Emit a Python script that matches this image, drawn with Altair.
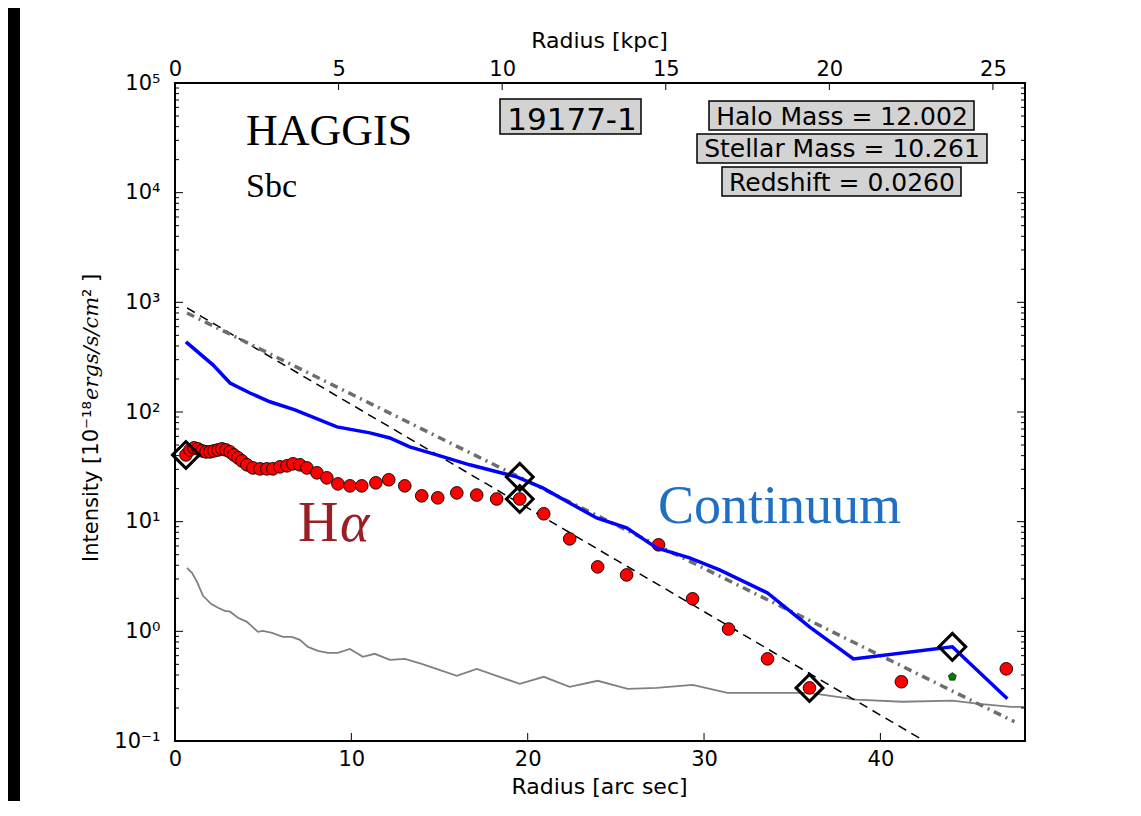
import altair as alt
import pandas as pd

# ---------------- data ----------------
ha_r = [0.62, 0.85, 1.08, 1.30, 1.53, 1.76, 1.98, 2.21, 2.44, 2.66, 2.89, 3.12, 3.34, 3.57, 3.80,
        4.08, 4.42, 4.82, 5.21, 5.55, 5.95, 6.35, 6.69, 7.08, 7.48, 8.05, 8.61, 9.24, 9.92, 10.59,
        11.39, 12.12, 13.03, 13.99, 14.90, 15.98, 17.11, 18.24, 19.55, 20.91, 22.38, 23.97, 25.61,
        27.42, 29.35, 31.39, 33.60, 35.98, 41.19, 47.14]
ha_i = [40.6, 45.1, 47.1, 46.1, 44.2, 43.3, 43.3, 44.2, 45.1, 46.1, 45.1, 43.3, 40.6, 38.2, 35.8,
        33.0, 30.9, 30.3, 30.3, 30.3, 31.6, 32.3, 33.7, 33.0, 30.9, 27.9, 25.1, 22.1, 21.2, 21.2,
        22.6, 24.1, 21.2, 17.2, 16.5, 18.3, 17.5, 16.1, 16.1, 11.8, 6.97, 3.87, 3.27,
        6.15, 1.98, 1.05, 0.561, 0.305, 0.347, 0.455]

cont_r = [0.62, 2.15, 3.12, 4.25, 5.38, 6.80, 9.18, 11.05, 12.18, 13.31, 14.84, 16.71, 19.38,
          20.85, 22.38, 23.91, 25.61, 27.31, 29.18, 30.88, 33.60, 35.98, 38.47, 44.08, 47.20]
cont_i = [436, 269, 184, 149, 124, 104.5, 73.1, 64.5, 58.0, 48.1, 40.6, 33.0, 25.6,
          20.3, 14.8, 10.8, 8.78, 5.77, 4.68, 3.64, 2.24, 1.10, 0.561, 0.722, 0.243]

noise_r = [0.68, 0.96, 1.25, 1.59, 2.04, 2.44, 2.83, 3.12, 3.57, 4.08, 4.70, 4.99, 5.50, 6.12, 6.63,
           7.08, 7.54, 8.10, 8.67, 9.24, 9.92, 10.65, 11.33, 12.18, 13.03, 13.99, 15.98, 17.11,
           19.55, 20.91, 22.38, 23.97, 25.67, 27.31, 29.35, 31.33, 33.60, 35.98, 38.64, 41.25,
           44.08, 45.61, 47.42, 48.16]
noise_i = [3.79, 3.41, 2.83, 2.11, 1.78, 1.64, 1.54, 1.51, 1.33, 1.22, 0.989, 1.01, 0.969, 0.891, 0.891,
           0.836, 0.722, 0.664, 0.637, 0.637, 0.692, 0.586, 0.624, 0.550, 0.561, 0.506, 0.393, 0.455,
           0.332, 0.385, 0.312, 0.354, 0.299, 0.305, 0.325, 0.275, 0.275, 0.275, 0.238, 0.228,
           0.233, 0.218, 0.205, 0.205]

diam_r = [0.62, 19.55, 19.55, 35.98, 44.08]
diam_i = [40.6, 25.6, 16.1, 0.305, 0.722]

pent_r = [44.08]
pent_i = [0.385]

fit1_r = [0.68, 42.5]       # black dashed fit
fit1_i = [889, 0.1]
fit2_r = [0.68, 47.6]       # grey dash-dot fit
fit2_i = [800, 0.15]

y_major = [0.1, 1, 10, 100, 1000, 10000, 100000]
y_minor = [k * 10.0 ** n for n in range(-1, 5) for k in range(2, 10)]
x_ticks = [0, 10, 20, 30, 40]
kpc_ticks = [0, 5, 10, 15, 20, 25]

# ---------------- chart ----------------
W, H = 850, 658
xs = alt.Scale(domain=[0, 48.2], nice=False, zero=False)
ys = alt.Scale(type="log", domain=[0.1, 100000], nice=False)
ks = alt.Scale(domain=[0, 25.98], nice=False, zero=False)

FONT = "DejaVu Sans"
SERIF = "Liberation Serif"

def df(r, i):
    return pd.DataFrame({"r": r, "i": i})

one = pd.DataFrame({"k": [0]})

ylabels = "['10⁻¹','10⁰','10¹','10²','10³','10⁴','10⁵'][round(log(datum.value)/LN10)+1]"

Y_AXIS = alt.Axis(
    values=y_major, ticks=False, tickSize=0, domain=False, grid=False,
    labelExpr=ylabels, labelFont=FONT, labelFontSize=21, labelColor="black", labelPadding=15,
    title=None)

X_AXIS = alt.Axis(
    values=x_ticks, ticks=False, tickSize=0, domain=False, grid=False, labelFlush=False,
    labelFont=FONT, labelFontSize=21, labelColor="black", labelPadding=7,
    title="Radius [arc sec]", titleFont=FONT, titleFontSize=22, titleFontWeight="normal",
    titleColor="black", titleX=424, titleY=52, titleBaseline="alphabetic", titleAlign="center")

X_noax = alt.X("r:Q", scale=xs, axis=None)
Y_ax = alt.Y("i:Q", scale=ys, axis=Y_AXIS)

noise = alt.Chart(df(noise_r, noise_i)).mark_line(color="#808080", strokeWidth=1.8, clip=True).encode(
    x=alt.X("r:Q", scale=xs, axis=X_AXIS), y=Y_ax, order="r:Q")

fit1 = alt.Chart(df(fit1_r, fit1_i)).mark_line(color="black", strokeWidth=1.5, strokeDash=[9, 6], clip=True).encode(
    x=X_noax, y=Y_ax)
fit2 = alt.Chart(df(fit2_r, fit2_i)).mark_line(color="#6e6e6e", strokeWidth=3.5, strokeDash=[8, 5, 2, 5], clip=True).encode(
    x=X_noax, y=Y_ax)

ha = alt.Chart(df(ha_r, ha_i)).mark_point(shape="circle", filled=True, color="#ff0000", stroke="black",
                                           strokeWidth=0.9, size=160, opacity=1).encode(x=X_noax, y=Y_ax)

cont = alt.Chart(df(cont_r, cont_i)).mark_line(color="#0000ff", strokeWidth=3.5, clip=True).encode(
    x=X_noax, y=Y_ax, order="r:Q")

diam = alt.Chart(df(diam_r, diam_i)).mark_point(shape="diamond", filled=False, stroke="black", color="black",
                                                 strokeWidth=3, size=720, opacity=1).encode(x=X_noax, y=Y_ax)

pent = alt.Chart(df(pent_r, pent_i)).mark_point(
    shape="M0,-1L0.951,-0.309L0.588,0.809L-0.588,0.809L-0.951,-0.309Z",
    filled=True, color="#008000", stroke="black", strokeWidth=0.6, size=70, opacity=1).encode(x=X_noax, y=Y_ax)

# inward ticks
ymaj = pd.DataFrame({"i": y_major})
ymin = pd.DataFrame({"i": y_minor})
xt = pd.DataFrame({"r": x_ticks})
kt = pd.DataFrame({"r": kpc_ticks})

def yt(data, x0, x1):
    return alt.Chart(data).mark_rule(color="black", strokeWidth=1).encode(
        y=Y_ax, x=alt.value(x0), x2=alt.value(x1))

ticks = [yt(ymaj, 0, 8), yt(ymaj, W, W - 8), yt(ymin, 0, 4), yt(ymin, W, W - 4),
         alt.Chart(xt).mark_rule(color="black", strokeWidth=1).encode(
             x=X_noax, y=alt.value(H), y2=alt.value(H - 8))]

kpc = alt.Chart(kt).mark_rule(color="black", strokeWidth=1).encode(
    x=alt.X("r:Q", scale=ks, axis=alt.Axis(
        orient="top", values=kpc_ticks, ticks=False, tickSize=0, domain=False, grid=False,
        labelFlush=False, labelFont=FONT, labelFontSize=21, labelColor="black", labelPadding=4,
        title="Radius [kpc]", titleFont=FONT, titleFontSize=22, titleFontWeight="normal",
        titleColor="black", titleX=424, titleY=-36, titleBaseline="alphabetic", titleAlign="center")),
    y=alt.value(0), y2=alt.value(7))

# annotation boxes and texts
def box(x0, y0, x1, y1):
    return alt.Chart(one).mark_rect(fill="#d3d3d3", stroke="black", strokeWidth=1.5).encode(
        x=alt.value(x0), x2=alt.value(x1), y=alt.value(y0), y2=alt.value(y1))

def label(text, x, y, size, font=FONT, color="black", align="left", style="normal",
          angle=0, baseline="alphabetic"):
    return alt.Chart(one).mark_text(text=text, font=font, fontSize=size, color=color, align=align,
                                    baseline=baseline, fontStyle=style, angle=angle).encode(
        x=alt.value(x), y=alt.value(y))

annots = [
    alt.Chart(one).mark_rect(fill="black").encode(
        x=alt.value(-167), x2=alt.value(-155), y=alt.value(-75), y2=alt.value(H + 80)),
    label("HAGGIS", 71, 62, 44, SERIF),
    label("Sbc", 71, 114, 34, SERIF),
    box(325, 16, 466, 51),
    label("19177-1", 397, 47, 31, align="center"),
    box(534, 18, 799, 47),
    label("Halo Mass = 12.002", 667, 42, 25, align="center"),
    box(522, 51, 812, 80),
    label("Stellar Mass = 10.261", 667, 74, 25, align="center"),
    box(547, 84, 786, 113),
    label("Redshift = 0.0260", 667, 108, 25, align="center"),
    label("H", 123, 458, 56, SERIF, color="#9b1f22"),
    label("α", 165, 458, 56, SERIF, color="#9b1f22", style="italic"),
    label("Continuum", 483, 440, 54, SERIF, color="#1f6fc5"),
    # y-axis title, in three pieces (upright / italic / upright)
    label("Intensity [10⁻¹⁸", -83, 479, 21, FONT, angle=270, baseline="middle"),
    label("ergs/s/cm", -83, 317, 21, "DejaVu Serif", style="italic", angle=270, baseline="middle"),
    label("² ]", -83, 214, 21, FONT, angle=270, baseline="middle"),
]

chart = alt.layer(noise, fit1, fit2, ha, cont, diam, pent, *ticks, kpc, *annots).resolve_scale(
    x="independent").properties(
    width=W, height=H,
    padding={"left": 167, "top": 75, "right": 100, "bottom": 60},
    autosize=alt.AutoSizeParams(type="none"),
    background="white",
).configure_view(stroke="black", strokeWidth=2)

chart.save("out.html", embed_options={"renderer": "svg", "actions": False})
